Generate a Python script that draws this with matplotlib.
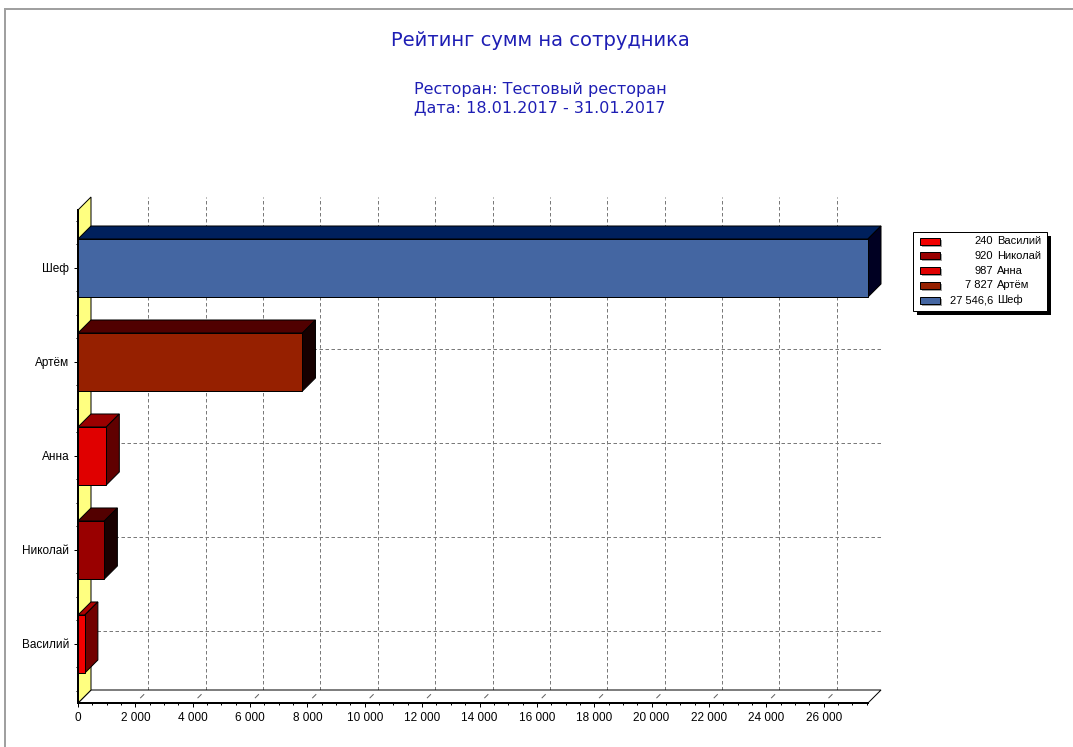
import matplotlib
matplotlib.use("Agg")
import matplotlib.pyplot as plt
from matplotlib.patches import Polygon, Rectangle
from matplotlib.lines import Line2D
from matplotlib.transforms import IdentityTransform
from matplotlib.ticker import MultipleLocator
from matplotlib.colors import to_rgb

# ---- data -------------------------------------------------------------
employees = ["Василий", "Николай", "Анна", "Артём", "Шеф"]
amounts = [240, 920, 987, 7827, 27546.6]
bar_colors = ["#F20000", "#990000", "#E00000", "#962000", "#4466A2"]
x_ticks = list(range(0, 26001, 2000))

title = "Рейтинг сумм на сотрудника"
subtitle = ["Ресторан: Тестовый ресторан", "Дата: 18.01.2017 - 31.01.2017"]

# ---- figure -----------------------------------------------------------
W, H, DPI = 1073, 747, 100
DEPTH = 13          # 3D depth of the chart, in pixels
PX = 72.0 / DPI     # one pixel expressed in points

fig = plt.figure(figsize=(W / DPI, H / DPI), dpi=DPI)
fig.patch.set_facecolor("white")


def px_box(left, top, right, bottom):
    return [left / W, 1 - bottom / H, (right - left) / W, (bottom - top) / H]


def fmt(v):
    s = f"{v:,.1f}" if v != int(v) else f"{int(v):,}"
    return s.replace(",", " ").replace(".", ",")


def shade(color, amount):
    return tuple(max(c - amount / 255.0, 0.0) for c in to_rgb(color))


ax = fig.add_axes(px_box(78, 210, 868, 703))
xmax = max(amounts)
ylo, yhi = -0.628, 4.617
ax.set_xlim(0, xmax)
ax.set_ylim(ylo, yhi)
ax.patch.set_visible(False)


def to_px(x, y, d=0.0):
    X, Y = ax.transData.transform((x, y))
    return (X + d * DEPTH, Y + d * DEPTH)


def poly(points, **kw):
    p = Polygon(points, closed=True, transform=IdentityTransform(),
                clip_on=False, **kw)
    ax.add_artist(p)
    return p


def seg(p0, p1, **kw):
    ln = Line2D([p0[0], p1[0]], [p0[1], p1[1]], transform=IdentityTransform(),
                clip_on=False, **kw)
    ax.add_artist(ln)
    return ln


# back-plane grid
for v in x_ticks[1:]:
    ln = seg(to_px(v, ylo, 1), to_px(v, yhi, 1), color="#7A7A7A", lw=PX, zorder=1)
    ln.set_dashes((3.5, 2.5))
for i in range(len(employees)):
    ln = seg(to_px(0, i, 1), to_px(xmax, i, 1), color="#7A7A7A", lw=PX, zorder=1)
    ln.set_dashes((3.5, 2.5))

# floor and left wall
poly([to_px(0, ylo, 0), to_px(xmax, ylo, 0), to_px(xmax, ylo, 1), to_px(0, ylo, 1)],
     fc="white", ec="black", lw=PX, zorder=2)
poly([to_px(0, ylo, 0), to_px(0, yhi, 0), to_px(0, yhi, 1), to_px(0, ylo, 1)],
     fc="#FFFF80", ec="black", lw=PX, zorder=2)

# small depth ticks on the floor
for v in x_ticks[1:]:
    seg(to_px(v, ylo, 0.4), to_px(v, ylo, 0.65), color="#606060", lw=PX, zorder=2)

# 3D bars
half = 0.617 / 2
for i, (v, c) in enumerate(zip(amounts, bar_colors)):
    poly([to_px(0, i + half, 0), to_px(v, i + half, 0),
          to_px(v, i + half, 1), to_px(0, i + half, 1)],
         fc=shade(c, 70), ec="black", lw=PX, zorder=4)
    poly([to_px(v, i - half, 0), to_px(v, i + half, 0),
          to_px(v, i + half, 1), to_px(v, i - half, 1)],
         fc=shade(c, 128), ec="black", lw=PX, zorder=4)
    ax.add_patch(Rectangle((0, i - half), v, 2 * half, fc=c, ec="black",
                           lw=PX, zorder=5, clip_on=False))

# axes, ticks, labels
for side in ("top", "right"):
    ax.spines[side].set_visible(False)
for side in ("bottom", "left"):
    ax.spines[side].set_linewidth(2 * PX)
    ax.spines[side].set_zorder(6)

ax.set_xticks(x_ticks)
ax.set_xticklabels([fmt(v) for v in x_ticks])
ax.xaxis.set_minor_locator(MultipleLocator(500))
ax.set_yticks(range(len(employees)))
ax.set_yticklabels(employees)
ax.yaxis.set_minor_locator(MultipleLocator(0.25))
ax.tick_params(which="major", length=4 * PX, width=PX, pad=3.5,
               labelsize=8.5, colors="black")
ax.tick_params(which="minor", length=2 * PX, width=PX)
for lab in ax.get_xticklabels() + ax.get_yticklabels():
    lab.set_family("Liberation Sans")

# titles
title_color = "#1E1EB4"
fig.text(540 / W, 1 - 46 / H, title, ha="center", va="baseline",
         fontsize=14, color=title_color, family="DejaVu Sans")
for k, line in enumerate(subtitle):
    fig.text(540 / W, 1 - (94 + 18 * k) / H, line, ha="center", va="baseline",
             fontsize=11.5, color=title_color, family="DejaVu Sans")

# page frame
fig.add_artist(Line2D([5 / W, 5 / W], [0, 1 - 9 / H], color="#A0A0A0",
                      lw=2 * PX, transform=fig.transFigure))
fig.add_artist(Line2D([5 / W, 1], [1 - 9 / H, 1 - 9 / H], color="#A0A0A0",
                      lw=2 * PX, transform=fig.transFigure))

# legend
lg = fig.add_axes(px_box(913, 232, 1047, 311))
lg.set_xlim(0, 134)
lg.set_ylim(79, 0)
lg.axis("off")
lg.add_patch(Rectangle((4, 4), 134, 79, fc="black", ec="none", clip_on=False, zorder=0))
lg.add_patch(Rectangle((0, 0), 134, 79, fc="white", ec="black", lw=PX,
                       clip_on=False, zorder=1))
for i, (name, v, c) in enumerate(zip(employees, amounts, bar_colors)):
    y = 9 + i * 14.8
    lg.add_patch(Rectangle((9, y - 1.5), 20, 7, fc="#A0A0A0", ec="none", zorder=2))
    lg.add_patch(Rectangle((7, y - 3.5), 20, 7, fc=c, ec="black", lw=PX, zorder=3))
    lg.text(80, y, fmt(v), ha="right", va="center", fontsize=8,
            family="Liberation Sans", zorder=4)
    lg.text(84, y, name, ha="left", va="center", fontsize=8,
            family="Liberation Sans", zorder=4)

fig.savefig("out.png", dpi=DPI, facecolor="white")
